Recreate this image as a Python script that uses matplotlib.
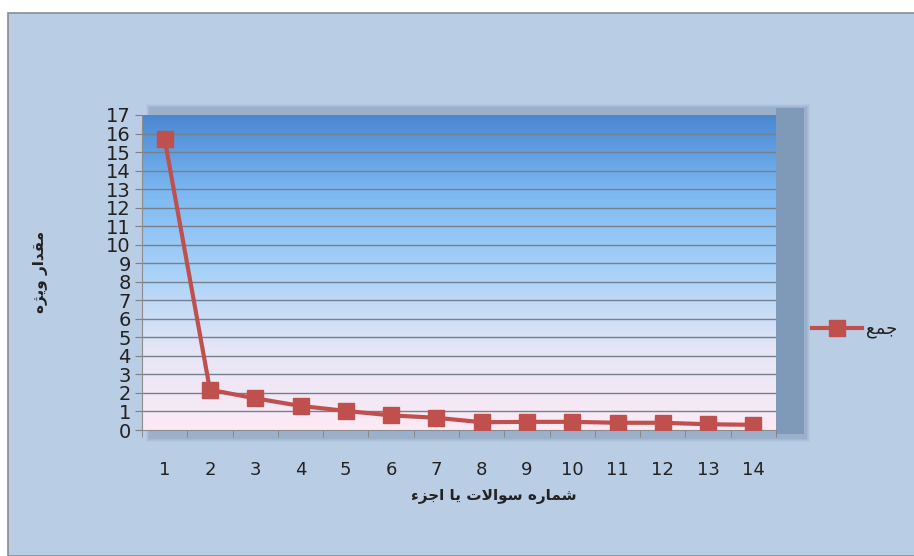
import numpy as np
import matplotlib.pyplot as plt
from matplotlib.patches import Rectangle
from matplotlib.colors import LinearSegmentedColormap
from matplotlib.lines import Line2D

# data
questions = list(range(1, 15))
totals = [15.7, 2.17, 1.71, 1.3, 1.03, 0.79, 0.66, 0.42, 0.44, 0.44, 0.39, 0.39, 0.31, 0.28]
y_ticks = list(range(0, 18))

# arabic text, pre-shaped into presentation forms (logical order, reversed for display)
ylabel_txt = "\uFEE3\uFED8\uFEAA\uFE8D\uFEAD \uFEED\uFEF3\uFB8B\uFEE9"[::-1]
xlabel_txt = ("\uFEB7\uFEE4\uFE8E\uFEAD\uFEE9 \uFEB3\uFEEE\uFE8D\uFEFB\uFE95 "
              "\uFEF3\uFE8E \uFE8D\uFE9F\uFEB0\uFE80")[::-1]
legend_txt = "\uFE9F\uFEE4\uFECA"[::-1]

line_color = '#C0504D'

fig = plt.figure(figsize=(9.14, 5.56), dpi=100)
fig.patch.set_facecolor('white')

W, H = 914, 556
def fx(px):
    return px / W
def fy(py):
    return 1 - py / H

# chart area background with grey border
fig.patches.append(Rectangle((fx(8), 0), 1, fy(13), transform=fig.transFigure,
                             facecolor='#B9CDE5', edgecolor='#8C8C8C', lw=1.2, zorder=0))

# soft shadow behind the plot area
for i, a in enumerate([0.08, 0.10, 0.13, 0.18]):
    g = 4 - i
    fig.patches.append(Rectangle((fx(150 - g), fy(438 + g)), fx(656 + 2 * g), (330 + 2 * g) / H,
                                 transform=fig.transFigure, facecolor='#6F8AA8',
                                 edgecolor='none', alpha=a, zorder=0.5))
fig.patches.append(Rectangle((fx(776), fy(434)), fx(28), 326 / H, transform=fig.transFigure,
                             facecolor='#7F9AB8', edgecolor='none', zorder=0.6))

ax = fig.add_axes([fx(142), fy(430), fx(776 - 142), (430 - 115) / H])
ax.set_zorder(1)

# gradient fill of the plot area
cmap = LinearSegmentedColormap.from_list('bg', ['#FCEAF6', '#E6E6F5', '#A9D2F8', '#7DB9F2', '#4A88D2'])
grad = np.linspace(0, 1, 256).reshape(-1, 1)
ax.imshow(grad, extent=[0.5, 14.5, 0, 17], origin='lower', aspect='auto', cmap=cmap, zorder=0)

ax.set_xlim(0.5, 14.5)
ax.set_ylim(0, 17)

for v in y_ticks[1:]:
    ax.axhline(v, color='#75808F', lw=1, zorder=1)

ax.plot(questions, totals, color=line_color, lw=3, marker='s', markersize=12,
        markerfacecolor=line_color, markeredgecolor=line_color, zorder=3)

ax.set_yticks(y_ticks)
ax.set_yticklabels([str(v) for v in y_ticks], fontsize=14, color='#222222')
ax.tick_params(axis='y', length=5, color='#808080', pad=3)

ax.set_xticks(questions)
ax.set_xticklabels([str(q) for q in questions], fontsize=13, color='#222222')
ax.set_xticks(np.arange(0.5, 15, 1), minor=True)
ax.tick_params(axis='x', which='major', length=0, pad=22)
ax.tick_params(axis='x', which='minor', length=5, color='#808080')

for s in ['top', 'right']:
    ax.spines[s].set_visible(False)
for s in ['left', 'bottom']:
    ax.spines[s].set_color('#8C8C8C')

fig.text(fx(494), fy(497), xlabel_txt, fontsize=11, fontweight='bold',
         ha='center', va='center', family='DejaVu Sans', color='#222222')
fig.text(fx(40), fy(272), ylabel_txt, fontsize=11, fontweight='bold', rotation=90,
         ha='center', va='center', family='DejaVu Sans', color='#222222')

# legend
fig.lines.append(Line2D([fx(812), fx(862)], [fy(328), fy(328)], transform=fig.transFigure,
                        color=line_color, lw=3))
fig.lines.append(Line2D([fx(837)], [fy(328)], transform=fig.transFigure, color=line_color,
                        marker='s', markersize=12))
fig.text(fx(866), fy(329), legend_txt, fontsize=13, ha='left', va='center',
         family='DejaVu Sans', color='#222222')

plt.savefig('out.png', dpi=100, facecolor=fig.get_facecolor())
